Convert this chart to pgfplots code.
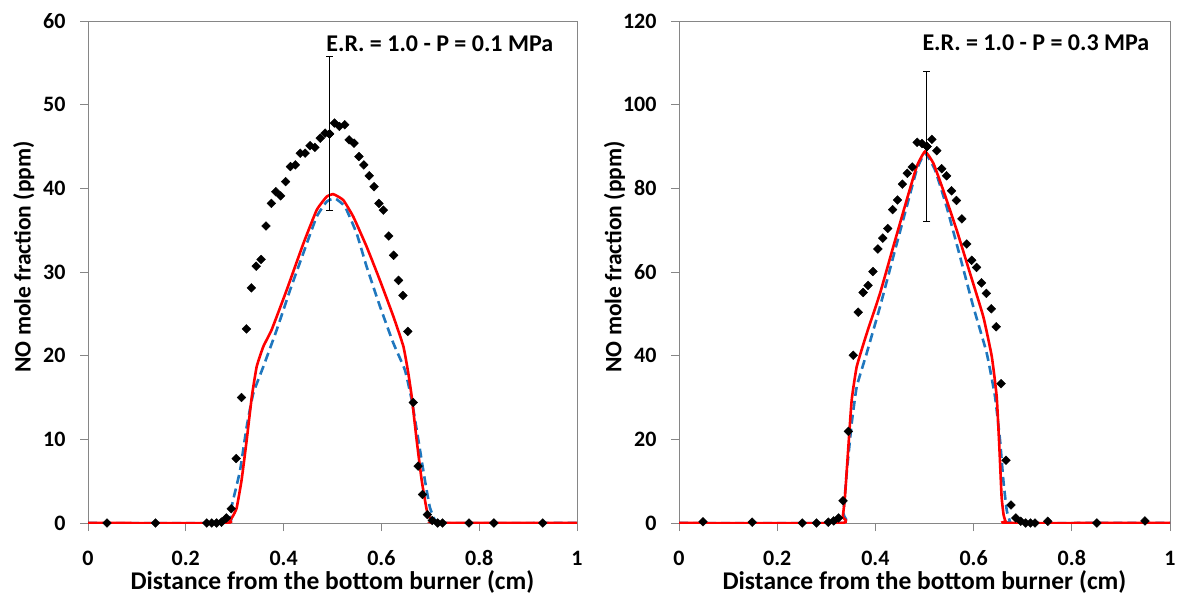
\documentclass[border=0pt]{standalone}
\usepackage{pgfplots}
\pgfplotsset{compat=1.18}
\usepackage{fontspec}
\setmainfont{Carlito}
\definecolor{exred}{RGB}{255,0,0}
\definecolor{exblue}{RGB}{31,119,190}
\definecolor{axgray}{RGB}{134,134,134}

\pgfplotstableread{
x y
0.039 0
0.138 0
0.243 0
0.253 0
0.263 0
0.273 0.1
0.283 0.6
0.293 1.7
0.303 7.7
0.314 15.0
0.324 23.2
0.334 28.1
0.344 30.7
0.354 31.5
0.364 35.5
0.375 38.2
0.384 39.6
0.394 39.1
0.404 40.8
0.414 42.6
0.424 42.8
0.434 44.2
0.444 44.2
0.454 45.1
0.464 44.9
0.475 46.0
0.485 46.6
0.494 46.5
0.504 47.8
0.514 47.4
0.525 47.6
0.534 45.8
0.544 45.4
0.554 43.8
0.564 42.8
0.575 41.5
0.585 40.2
0.595 38.2
0.604 37.4
0.615 34.3
0.625 32.0
0.635 29.0
0.644 27.2
0.654 22.9
0.665 14.4
0.675 6.8
0.684 3.4
0.694 1.0
0.704 0.3
0.715 0
0.725 0
0.779 0
0.830 0
0.930 0
}\expA

\pgfplotstableread{
x y
0 0
0.280 0
0.290 0.3
0.297 0.9
0.304 1.8
0.314 5.1
0.3245 9.9
0.335 15.1
0.345 18.7
0.3586 21.1
0.3756 23.1
0.406 27.8
0.4404 33.4
0.4676 37.4
0.488 39.0
0.5017 39.3
0.522 38.6
0.5426 36.6
0.57 33.0
0.597 29.0
0.6244 24.7
0.645 21.1
0.655 17.9
0.662 15.1
0.672 9.96
0.6824 5.1
0.6926 1.6
0.700 0.5
0.706 0.1
0.712 0
1 0
}\redA

\pgfplotstableread{
x y
0 0
0.282 0
0.290 1.0
0.297 2.8
0.311 6.3
0.3245 11.5
0.338 15.5
0.3586 18.7
0.386 23.1
0.413 27.8
0.44 32.2
0.4676 36.6
0.488 38.4
0.505 38.8
0.5256 37.8
0.5494 34.6
0.57 30.6
0.597 25.9
0.6244 21.5
0.648 18.3
0.662 14.7
0.6755 9.96
0.689 5.1
0.699 1.9
0.7096 0.3
0.718 0
1 0
}\blueA

\pgfplotstableread{
x y
0.049 0.3
0.149 0.2
0.251 0
0.280 0
0.304 0.2
0.315 0.5
0.325 1.2
0.334 5.3
0.345 21.9
0.355 40.1
0.365 50.4
0.375 55.1
0.385 56.8
0.395 60.1
0.405 65.5
0.415 68.1
0.425 70.4
0.435 74.9
0.445 77.2
0.455 81.0
0.465 83.6
0.475 85.1
0.485 91.0
0.495 90.7
0.505 90.0
0.515 91.7
0.525 89.0
0.535 84.7
0.545 83.0
0.555 79.4
0.565 77.1
0.576 72.7
0.586 66.7
0.596 62.8
0.606 61.1
0.616 57.4
0.626 54.9
0.636 51.2
0.646 46.9
0.656 33.3
0.666 15.0
0.676 4.3
0.686 1.2
0.696 0.4
0.706 0
0.716 0
0.725 0
0.751 0.4
0.851 0
0.949 0.5
}\expB

\pgfplotstableread{
x y
0 0
0.329 0
0.3335 1.5
0.338 6.3
0.3449 18.2
0.3517 29.4
0.362 37.4
0.3823 45.3
0.4094 54.9
0.4365 66.1
0.4637 77.2
0.4841 85.2
0.501 88.8
0.518 86.0
0.538 79.6
0.5656 70.0
0.5927 59.7
0.6198 49.3
0.637 39.8
0.647 30.2
0.6524 18.2
0.657 6.3
0.661 2.0
0.665 0.4
0.670 0
1 0
}\redB

\pgfplotstableread{
x y
0 0
0.329 0
0.3347 2.3
0.3415 11.9
0.3517 23.8
0.362 32.6
0.3823 40.6
0.4094 51.7
0.4365 63.7
0.4637 75.6
0.4841 84.4
0.501 88.4
0.5214 84.4
0.545 75.6
0.5723 63.7
0.5994 51.7
0.6267 40.6
0.6436 30.2
0.6538 19.8
0.6605 10.3
0.6674 3.1
0.674 0.4
0.68 0
1 0
}\blueB

\pgfplotsset{myax/.style={
  scale only axis, width=489pt, height=502pt,
  xmin=0, xmax=1, xtick={0,0.2,0.4,0.6,0.8,1},
  axis line style={axgray, line width=0.9pt},
  tick style={axgray, line width=0.9pt},
  tick align=outside, major tick length=8pt,
  xtick pos=bottom, ytick pos=left,
  ticklabel style={font=\fontsize{22}{26}\selectfont\bfseries},
  /pgf/number format/assume math mode=true,
  xlabel={Distance from the bottom burner (cm)},
  ylabel={NO mole fraction (ppm)},
  xlabel style={font=\fontsize{25.5}{30}\selectfont\bfseries, at={(axis description cs:0.5,-0.132)}, anchor=base},
  ylabel style={font=\fontsize{23.5}{28}\selectfont\bfseries, at={(axis description cs:-0.1172,0.53)}, anchor=base},
  xticklabel style={anchor=center, yshift=-27pt},
  yticklabel style={anchor=east, xshift=-11pt},
  mline/.style={line width=2.6pt, smooth, tension=0.25},
  dmark/.style={only marks, mark=square*, mark size=3.1pt, mark options={rotate=45, black}, black},
}}

\begin{document}
\begin{tikzpicture}
\path[use as bounding box] (0,0) rectangle (1182pt,594pt);
\begin{axis}[myax, at={(88pt,71pt)}, anchor=south west,
  ymin=0, ymax=60, ytick={0,10,20,30,40,50,60}]
\addplot[mline, exblue, dash pattern=on 9pt off 5pt] table {\blueA};
\addplot[mline, exred] table {\redA};
\addplot[dmark] table {\expA};
\addplot[dmark,
  error bars/.cd, y dir=both, y explicit,
  error bar style={black, line width=1pt},
  error mark options={rotate=90, black, mark size=3.5pt, line width=1pt}]
  coordinates {(0.494,46.5) +- (0,9.2)};
\node[anchor=base east, font=\fontsize{24}{28}\selectfont\bfseries] at (axis description cs:0.9585,0.9389) {E.R. = 1.0 - P = 0.1 MPa};
\end{axis}
\begin{axis}[myax, at={(679pt,71pt)}, anchor=south west, width=491pt,
  ymin=0, ymax=120, ytick={0,20,40,60,80,100,120}]
\addplot[mline, exblue, dash pattern=on 9pt off 5pt] table {\blueB};
\addplot[mline, exred] table {\redB};
\addplot[dmark] table {\expB};
\addplot[dmark,
  error bars/.cd, y dir=both, y explicit,
  error bar style={black, line width=1pt},
  error mark options={rotate=90, black, mark size=3.5pt, line width=1pt}]
  coordinates {(0.505,90.0) +- (0,18)};
\node[anchor=base east, font=\fontsize{24}{28}\selectfont\bfseries] at (axis description cs:0.965,0.942) {E.R. = 1.0 - P = 0.3 MPa};
\end{axis}
\end{tikzpicture}
\end{document}
